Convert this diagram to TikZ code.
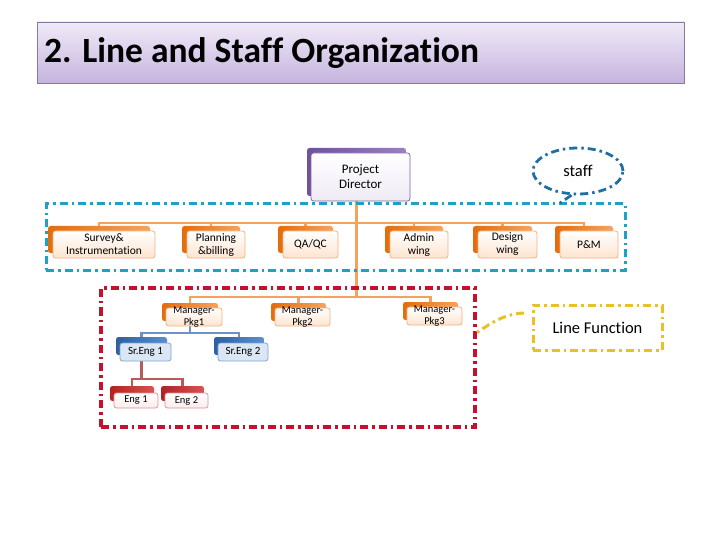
\documentclass[tikz,border=0pt]{standalone}
\usepackage{fontspec}
\setmainfont{Carlito}[Ligatures=NoCommon]
\usetikzlibrary{shadows,backgrounds,shapes.geometric}
\definecolor{titletop}{HTML}{F0EAF8}
\definecolor{titlebot}{HTML}{C5B4DE}
\definecolor{titleborder}{HTML}{8878A0}
\definecolor{oshA}{HTML}{E46C0A}
\definecolor{oshB}{HTML}{F7A35C}
\definecolor{oborder}{HTML}{F4B183}
\definecolor{ofill}{HTML}{FDE4CF}
\definecolor{pshA}{HTML}{6F519C}
\definecolor{pshB}{HTML}{9A80C0}
\definecolor{pborder}{HTML}{8064A2}
\definecolor{pfill}{HTML}{EEEAF4}
\definecolor{bshA}{HTML}{2E5F9E}
\definecolor{bshB}{HTML}{5A8FD0}
\definecolor{bborder}{HTML}{7FA3D0}
\definecolor{bfill}{HTML}{DAE6F4}
\definecolor{rshA}{HTML}{B22222}
\definecolor{rshB}{HTML}{D9534F}
\definecolor{rborder}{HTML}{D99594}
\definecolor{rfill}{HTML}{FBECEC}
\definecolor{olinec}{HTML}{F5A25D}
\definecolor{blinec}{HTML}{6B93C8}
\definecolor{rlinec}{HTML}{B65A5A}
\definecolor{bgroupc}{HTML}{1EA0C8}
\definecolor{rgroupc}{HTML}{C8102E}
\definecolor{ygroupc}{HTML}{E8C224}
\definecolor{staffc}{HTML}{1F6FA5}
\begin{document}
\begin{tikzpicture}[x=1pt,y=-1pt,
  box/.style={rectangle, rounded corners=2.5pt, draw, line width=0.8pt, inner sep=1pt, align=center, text=black},
  obox/.style={box, draw=oborder, top color=white, bottom color=ofill,
     general shadow={shadow xshift=-5pt, shadow yshift=5pt, left color=oshA, right color=oshB, draw=none},
     font=\fontsize{11.5}{13}\selectfont},
  pbox/.style={box, draw=pborder, top color=white, bottom color=pfill,
     general shadow={shadow xshift=-4pt, shadow yshift=5pt, left color=pshA, right color=pshB, draw=none},
     font=\fontsize{13}{15}\selectfont},
  mbox/.style={box, draw=oborder, top color=white, bottom color=ofill, inner sep=0pt,
     general shadow={shadow xshift=-4pt, shadow yshift=5pt, left color=oshA, right color=oshB, draw=none},
     minimum height=18pt},
  mlabel/.style={font=\fontsize{10.5}{11.5}\selectfont, align=center, inner sep=0pt},
  bbox/.style={box, draw=bborder, top color=bfill, bottom color=bfill,
     general shadow={shadow xshift=-4pt, shadow yshift=6pt, left color=bshA, right color=bshB, draw=none},
     minimum height=18pt, inner sep=0pt, font=\fontsize{11}{12}\selectfont},
  rbox/.style={box, draw=rborder, top color=white, bottom color=rfill,
     general shadow={shadow xshift=-4pt, shadow yshift=7pt, left color=rshA, right color=rshB, draw=none},
     minimum height=15pt, inner sep=0pt, font=\fontsize{10.5}{12}\selectfont},
  oline/.style={draw=olinec, line width=2.5pt},
  bline/.style={draw=blinec, line width=2.5pt},
  rline/.style={draw=rlinec, line width=2.5pt},
  dashdot/.style={dash pattern=on 8pt off 4pt on 2.5pt off 4pt},
  bgroup/.style={draw=bgroupc, line width=3pt, dashdot, minimum width=579pt, minimum height=66pt, inner sep=0pt},
  rgroup/.style={draw=rgroupc, line width=3.2pt, dashdot, minimum width=374pt, minimum height=139pt, inner sep=0pt},
  ygroup/.style={draw=ygroupc, line width=3pt, dashdot, minimum width=129pt, minimum height=45pt, inner sep=0pt, font=\fontsize{16.5}{18}\selectfont},
  yline/.style={draw=ygroupc, line width=3pt, dashdot},
  stline/.style={draw=staffc, line width=2.8pt, dashdot}
]
\useasboundingbox (0,0) rectangle (720,540);

% title
\node[rectangle, draw=titleborder, line width=0.8pt, top color=titletop, bottom color=titlebot,
      minimum width=647pt, minimum height=61pt, inner sep=0pt] (titlebox) at (360.5,52.5) {};
\node[anchor=west, inner sep=0pt, font=\fontsize{35.5}{40}\selectfont\bfseries] (title) at (44,53) {2. Line and Staff Organization};

% project director
\node[pbox, minimum width=99pt, minimum height=48pt] (pd) at (360.5,177) {Project\\Director};

% staff row
\node[obox, minimum width=102pt, minimum height=27pt] (s1) at (104,244.5) {Survey\&\\Instrumentation};
\node[obox, minimum width=58pt, minimum height=27pt] (s2) at (216,244.5) {Planning\\\&billing};
\node[obox, minimum width=55pt, minimum height=27pt] (s3) at (310.5,244.5) {QA/QC};
\node[obox, minimum width=58pt, minimum height=27pt] (s4) at (419,244.5) {Admin\\wing};
\node[obox, minimum width=59pt, minimum height=27pt] (s5) at (507.5,244.5) {Design\\wing};
\node[obox, minimum width=58pt, minimum height=27pt] (s6) at (589,244.5) {P\&M};

% managers
\node[mbox, minimum width=56pt, label={[mlabel]center:Manager-\\Pkg1}] (m1) at (194,317) {};
\node[mbox, minimum width=55pt, label={[mlabel]center:Manager-\\Pkg2}] (m2) at (302.5,317) {};
\node[mbox, minimum width=55pt, label={[mlabel]center:Manager-\\Pkg3}] (m3) at (434.5,316) {};

% senior engineers
\node[bbox, minimum width=51pt] (b1) at (145.5,352) {Sr.Eng 1};
\node[bbox, minimum width=50pt] (b2) at (243,352) {Sr.Eng 2};

% engineers
\node[rbox, minimum width=44pt] (e1) at (136,400.5) {Eng 1};
\node[rbox, minimum width=43pt] (e2) at (186.5,400.5) {Eng 2};

% staff callout
\node[ellipse, draw=staffc, line width=2.8pt, dashdot, minimum width=90pt, minimum height=46pt,
      font=\fontsize{16.5}{18}\selectfont] (st) at (578,171) {staff};
\coordinate (stt) at (560,203);

% line function
\node[ygroup] (lf) at (597.5,327.5) {Line Function};
\coordinate (lft) at (524,313);

\coordinate (sbar) at (356.5,223);
\coordinate (mbar) at (356.5,297);
\coordinate (bbar) at (190,333);
\coordinate (rbar) at (141.5,379);

\begin{scope}[on background layer]
  \fill[white] (0,0) rectangle (720,540);
  % orange
  \draw[oline] ([xshift=-4pt]pd.south) -- (mbar);
  \draw[oline] ([xshift=-5pt]s1.north) -- ([xshift=-5pt]s1.north |- sbar) -- ([xshift=-5pt]s6.north |- sbar) -- ([xshift=-5pt]s6.north);
  \draw[oline] ([xshift=-5pt]s2.north) -- ([xshift=-5pt]s2.north |- sbar);
  \draw[oline] ([xshift=-5pt]s3.north) -- ([xshift=-5pt]s3.north |- sbar);
  \draw[oline] ([xshift=-5pt]s4.north) -- ([xshift=-5pt]s4.north |- sbar);
  \draw[oline] ([xshift=-5pt]s5.north) -- ([xshift=-5pt]s5.north |- sbar);
  \draw[oline] ([xshift=-4pt]m1.north) -- ([xshift=-4pt]m1.north |- mbar) -- ([xshift=-4pt]m3.north |- mbar) -- ([xshift=-4pt]m3.north);
  \draw[oline] ([xshift=-4pt]m2.north) -- ([xshift=-4pt]m2.north |- mbar);
  % blue
  \draw[bline] ([xshift=-4pt]m1.south) -- (bbar);
  \draw[bline] ([xshift=-4pt]b1.north) -- ([xshift=-4pt]b1.north |- bbar) -- ([xshift=-4pt]b2.north |- bbar) -- ([xshift=-4pt]b2.north);
  % red
  \draw[rline] ([xshift=-4pt]b1.south) -- (rbar);
  \draw[rline] ([xshift=-4pt]e1.north) -- ([xshift=-4pt]e1.north |- rbar) -- ([xshift=-4pt]e2.north |- rbar) -- ([xshift=-4pt]e2.north);
\end{scope}

% groups
\node[bgroup] (sg) at (335.5,237) {};
\node[rgroup] (rg) at (288,357.5) {};

\draw[stline] (st.255) -- (stt);
\draw[yline] (lft) .. controls (505,314) and (492,322) .. ([yshift=24.5pt]rg.east);
\end{tikzpicture}
\end{document}
